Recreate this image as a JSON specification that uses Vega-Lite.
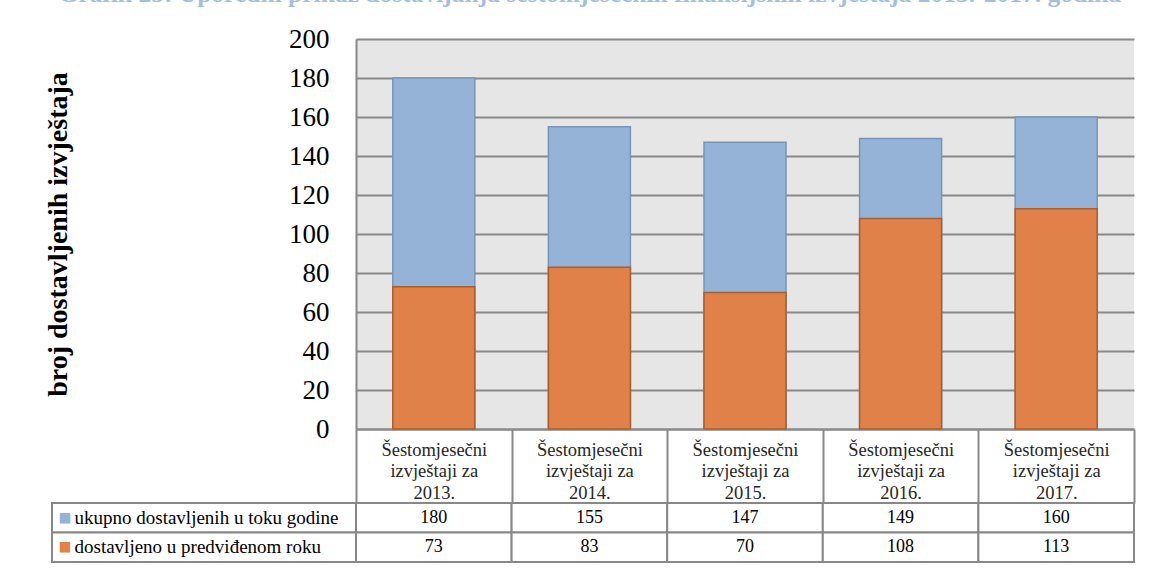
{
  "$schema": "https://vega.github.io/schema/vega-lite/v6.json",
  "padding": {"left": 44, "top": -19, "right": 14, "bottom": 5},
  "background": "#ffffff",
  "title": {
    "text": "Grafik 25: Uporedni prikaz dostavljanja šestomjesečnih finansijskih izvještaja 2013.-2017. godina",
    "font": "Liberation Serif",
    "fontSize": 25.5,
    "fontWeight": "bold",
    "color": "#A4BFDE",
    "anchor": "middle",
    "frame": "bounds",
    "offset": 18
  },
  "data": {
    "values": [
      {"izvjestaj": "Šestomjesečni izvještaji za 2013.", "serija": "ukupno dostavljenih  u toku godine", "broj": 180},
      {"izvjestaj": "Šestomjesečni izvještaji za 2013.", "serija": "dostavljeno u predviđenom roku", "broj": 73},
      {"izvjestaj": "Šestomjesečni izvještaji za 2014.", "serija": "ukupno dostavljenih  u toku godine", "broj": 155},
      {"izvjestaj": "Šestomjesečni izvještaji za 2014.", "serija": "dostavljeno u predviđenom roku", "broj": 83},
      {"izvjestaj": "Šestomjesečni izvještaji za 2015.", "serija": "ukupno dostavljenih  u toku godine", "broj": 147},
      {"izvjestaj": "Šestomjesečni izvještaji za 2015.", "serija": "dostavljeno u predviđenom roku", "broj": 70},
      {"izvjestaj": "Šestomjesečni izvještaji za 2016.", "serija": "ukupno dostavljenih  u toku godine", "broj": 149},
      {"izvjestaj": "Šestomjesečni izvještaji za 2016.", "serija": "dostavljeno u predviđenom roku", "broj": 108},
      {"izvjestaj": "Šestomjesečni izvještaji za 2017.", "serija": "ukupno dostavljenih  u toku godine", "broj": 160},
      {"izvjestaj": "Šestomjesečni izvještaji za 2017.", "serija": "dostavljeno u predviđenom roku", "broj": 113}
    ]
  },
  "columns": 2,
  "spacing": {"row": 74, "column": 0},
  "bounds": "flush",
  "concat": [
    {
      "width": 304,
      "height": 390,
      "data": {"values": []},
      "mark": "point",
      "encoding": {}
    },
    {
      "width": 778,
      "height": 390,
      "view": {"fill": "#E6E6E6", "stroke": null},
      "mark": {"type": "bar", "strokeWidth": 1.5, "width": {"band": 0.527}},
      "encoding": {
        "x": {
          "field": "izvjestaj",
          "type": "nominal",
          "sort": null,
          "scale": {"type": "band", "paddingInner": 0, "paddingOuter": 0},
          "axis": {
            "title": null,
            "labelAngle": 0,
            "labelExpr": "[slice(datum.label,0,13), slice(datum.label,14,27), slice(datum.label,28)]",
            "labelFontSize": 18.5,
            "labelLineHeight": 21.5,
            "labelPadding": -63,
            "labelColor": "#262626",
            "tickBand": "extent",
            "tickSize": 74,
            "tickColor": "#888888",
            "tickWidth": 2,
            "domainColor": "#888888",
            "domainWidth": 2
          }
        },
        "y": {
          "field": "broj",
          "type": "quantitative",
          "stack": null,
          "scale": {"domain": [0, 200], "nice": false},
          "axis": {
            "values": [0, 20, 40, 60, 80, 100, 120, 140, 160, 180, 200],
            "title": "broj dostavljenih izvještaja",
            "titleFontSize": 28,
            "titleFontWeight": "bold",
            "titleColor": "#000000",
            "titlePadding": 216,
            "labelFontSize": 27,
            "labelPadding": 27,
            "labelColor": "#000000",
            "labelOverlap": false,
            "ticks": false,
            "gridColor": "#888888",
            "gridWidth": 2,
            "domainColor": "#888888",
            "domainWidth": 2
          }
        },
        "color": {
          "field": "serija",
          "type": "nominal",
          "scale": {"domain": ["ukupno dostavljenih  u toku godine", "dostavljeno u predviđenom roku"], "range": ["#95B3D7", "#DF8149"]},
          "legend": null
        },
        "stroke": {
          "field": "serija",
          "type": "nominal",
          "scale": {"domain": ["ukupno dostavljenih  u toku godine", "dostavljeno u predviđenom roku"], "range": ["#7895B8", "#A95E2E"]},
          "legend": null
        }
      }
    },
    {
      "width": 304,
      "height": 59,
      "mark": {"type": "rect", "fill": "#ffffff", "stroke": "#888888", "strokeWidth": 2},
      "encoding": {
        "y": {
          "field": "serija",
          "type": "nominal",
          "sort": ["ukupno dostavljenih  u toku godine", "dostavljeno u predviđenom roku"],
          "scale": {"type": "band", "paddingInner": 0, "paddingOuter": 0},
          "axis": {
            "title": null,
            "ticks": false,
            "domain": false,
            "labelAlign": "left",
            "labelPadding": -22,
            "labelFontSize": 19,
            "labelColor": "#000000",
            "labelLimit": 300
          }
        }
      }
    },
    {
      "width": 778,
      "height": 59,
      "encoding": {
        "x": {
          "field": "izvjestaj",
          "type": "nominal",
          "sort": null,
          "scale": {"type": "band", "paddingInner": 0, "paddingOuter": 0},
          "axis": null
        },
        "y": {
          "field": "serija",
          "type": "nominal",
          "sort": ["ukupno dostavljenih  u toku godine", "dostavljeno u predviđenom roku"],
          "scale": {"type": "band", "paddingInner": 0, "paddingOuter": 0},
          "axis": {
            "ticks": false,
            "domain": false,
            "title": null,
            "labelExpr": "'■'",
            "labelFont": "DejaVu Sans",
            "labelFontSize": 13.5,
            "labelPadding": 285,
            "labelColor": {"condition": {"test": "datum.value === 'ukupno dostavljenih  u toku godine'", "value": "#95B3D7"}, "value": "#DF8149"}
          }
        }
      },
      "layer": [
        {
          "mark": {"type": "rect", "fill": "#ffffff", "stroke": "#888888", "strokeWidth": 2}
        },
        {
          "mark": {"type": "text", "fontSize": 18, "font": "Liberation Serif", "color": "#000000"},
          "encoding": {"text": {"field": "broj", "type": "quantitative"}}
        }
      ]
    }
  ],
  "config": {
    "view": {"stroke": null},
    "axis": {"labelFont": "Liberation Serif", "titleFont": "Liberation Serif"}
  }
}
